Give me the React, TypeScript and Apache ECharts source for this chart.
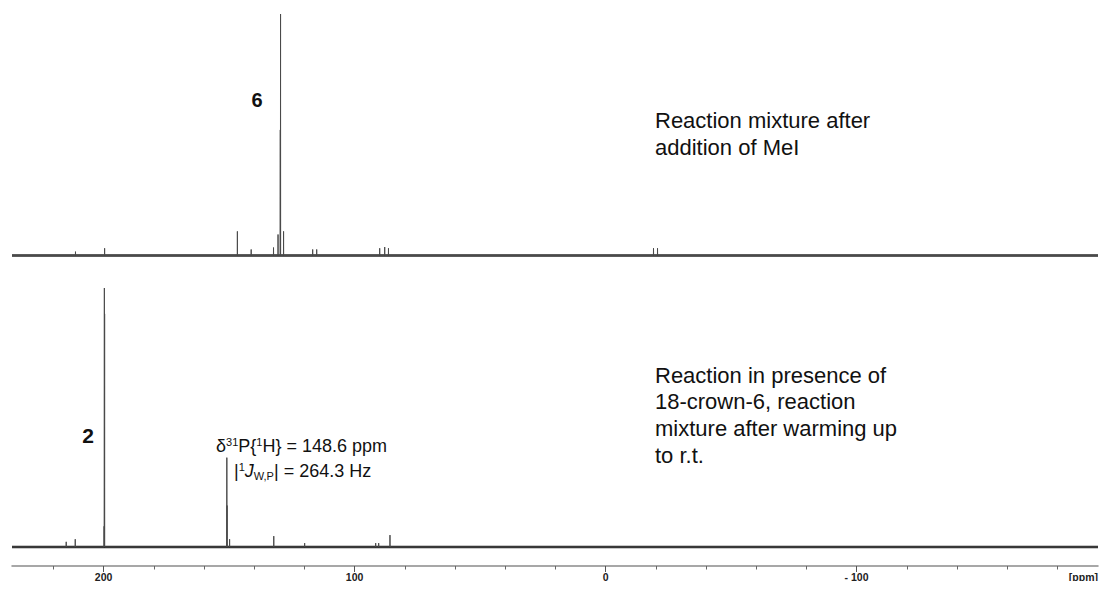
import React, { useEffect, useRef } from "react";
import * as echarts from "echarts";

// ---- data (ppm, relative intensity) ----
const topPeakPpm = [211.2, 199.6, 146.7, 141.2, 132.3, 130.5, 129.6, 129.5, 128.3, 116.7, 115.1, 90.0, 88.0, 86.5, -19.1, -20.7];
const topPeakHeight = [0.016, 0.03, 0.1, 0.025, 0.033, 0.087, 0.52, 1.0, 0.1, 0.025, 0.025, 0.03, 0.035, 0.03, 0.03, 0.03];

const bottomPeakPpm = [214.9, 211.3, 199.8, 199.7, 199.6, 150.9, 150.8, 149.8, 132.2, 119.9, 91.6, 90.4, 85.9];
const bottomPeakHeight = [0.02, 0.03, 0.08, 1.0, 0.9, 0.345, 0.16, 0.03, 0.042, 0.015, 0.015, 0.015, 0.046];

const majorTicks = [200, 100, 0, -100];
const minorTicks = [220, 180, 160, 140, 120, 80, 60, 40, 20, -20, -40, -60, -80, -120, -140, -160, -180];

const X_MIN = -196.2;
const X_MAX = 236.5;

function buildSpectrum(ppm: number[], h: number[]) {
  const idx = ppm.map((_, i) => i).sort((a, b) => ppm[b] - ppm[a]);
  const pts: number[][] = [[X_MAX, 0]];
  const w = 0.04;
  idx.forEach((i) => {
    pts.push([ppm[i] + w, 0]);
    pts.push([ppm[i], h[i]]);
    pts.push([ppm[i] - w, 0]);
  });
  pts.push([X_MIN, 0]);
  return pts;
}

const FONT = "'Liberation Sans', Arial, sans-serif";

export default function App() {
  const ref = useRef<HTMLDivElement>(null);
  useEffect(() => {
    if (!ref.current) return;
    const chart = echarts.init(ref.current, null, { renderer: "svg" });
    const topBase = 255.5;
    const topPeak = 14;
    const topUnit = topBase - topPeak;
    const botBase = 547;
    const botPeak = 288;
    const botUnit = botBase - botPeak;
    const axisY = 566;
    const botMin = -(axisY - botBase) / botUnit;

    const baselineStyle = { color: "#262626", width: 2.6 };
    const peakStyle = { color: "#4a4a4a", width: 1 };
    const sup = { fontSize: 11, lineHeight: 12, verticalAlign: "top", fontFamily: FONT, fill: "#111" };
    const txt = { fontSize: 18, lineHeight: 20, fontFamily: FONT, fill: "#111" };

    chart.setOption({
      animation: false,
      backgroundColor: "#ffffff",
      grid: [
        { left: 12, right: 12, top: topPeak, height: topUnit * 1.1 },
        { left: 12, right: 12, top: botPeak, height: botUnit * (1 - botMin) },
      ],
      xAxis: [
        { gridIndex: 0, type: "value", inverse: true, min: X_MIN, max: X_MAX, show: false },
        {
          gridIndex: 1,
          type: "value",
          inverse: true,
          min: X_MIN,
          max: X_MAX,
          position: "bottom",
          splitLine: { show: false },
          axisLine: { show: true, onZero: false, lineStyle: { color: "#8a8a8a", width: 1.5 } },
          axisTick: { show: true, length: 6, customValues: majorTicks, lineStyle: { color: "#555", width: 1 } },
          axisLabel: {
            show: true,
            customValues: majorTicks,
            margin: 5,
            color: "#222",
            fontFamily: FONT,
            fontWeight: "bold",
            fontSize: 10.5,
            formatter: (v: number) => (v < 0 ? "- " + Math.abs(v) : String(v)),
          },
        },
        {
          gridIndex: 1,
          type: "value",
          inverse: true,
          min: X_MIN,
          max: X_MAX,
          position: "bottom",
          offset: 0,
          splitLine: { show: false },
          axisLine: { show: false, onZero: false },
          axisTick: { show: true, length: 3.5, customValues: minorTicks, lineStyle: { color: "#666", width: 1 } },
          axisLabel: { show: false },
        },
      ],
      yAxis: [
        { gridIndex: 0, type: "value", min: -0.1, max: 1, show: false },
        { gridIndex: 1, type: "value", min: botMin, max: 1, show: false },
      ],
      series: [
        {
          type: "line",
          xAxisIndex: 0,
          yAxisIndex: 0,
          data: [[X_MAX, 0], [X_MIN, 0]],
          showSymbol: false,
          lineStyle: baselineStyle,
          silent: true,
        },
        {
          type: "line",
          xAxisIndex: 0,
          yAxisIndex: 0,
          data: buildSpectrum(topPeakPpm, topPeakHeight),
          showSymbol: false,
          lineStyle: peakStyle,
          silent: true,
        },
        {
          type: "line",
          xAxisIndex: 1,
          yAxisIndex: 1,
          data: [[X_MAX, 0], [X_MIN, 0]],
          showSymbol: false,
          lineStyle: baselineStyle,
          silent: true,
        },
        {
          type: "line",
          xAxisIndex: 1,
          yAxisIndex: 1,
          data: buildSpectrum(bottomPeakPpm, bottomPeakHeight),
          showSymbol: false,
          lineStyle: peakStyle,
          silent: true,
        },
      ],
      graphic: [
        {
          type: "text",
          x: 1098,
          y: 577,
          style: { text: "[ppm]", fill: "#222", fontFamily: FONT, fontWeight: "bold", fontSize: 10.5, align: "right", verticalAlign: "middle" },
        },
        {
          type: "text",
          x: 257,
          y: 100,
          style: { text: "6", fill: "#111", fontFamily: FONT, fontWeight: "bold", fontSize: 20, align: "center", verticalAlign: "middle" },
        },
        {
          type: "text",
          x: 88,
          y: 435,
          style: { text: "2", fill: "#111", fontFamily: FONT, fontWeight: "bold", fontSize: 21, align: "center", verticalAlign: "middle" },
        },
        {
          type: "text",
          x: 655,
          y: 106.5,
          style: {
            text: "Reaction mixture after\naddition of MeI",
            fill: "#111",
            fontFamily: FONT,
            fontSize: 22,
            lineHeight: 27,
            align: "left",
            verticalAlign: "top",
          },
        },
        {
          type: "text",
          x: 655,
          y: 361.7,
          style: {
            text: "Reaction in presence of\n18-crown-6, reaction\nmixture after warming up\nto r.t.",
            fill: "#111",
            fontFamily: FONT,
            fontSize: 22,
            lineHeight: 26.7,
            align: "left",
            verticalAlign: "top",
          },
        },
        {
          type: "text",
          x: 216,
          y: 446,
          style: {
            text: "{n|δ}{s|31}{n|P{}{s|1}{n|H}} = 148.6 ppm",
            fill: "#111",
            fontFamily: FONT,
            fontSize: 18,
            lineHeight: 20,
            align: "left",
            verticalAlign: "middle",
            rich: { s: sup, n: txt },
          },
        },
        {
          type: "text",
          x: 234,
          y: 471,
          style: {
            text: "{n||}{s|1}{i|J}{b|W,P}| = 264.3 Hz",
            fill: "#111",
            fontFamily: FONT,
            fontSize: 18,
            lineHeight: 20,
            align: "left",
            verticalAlign: "middle",
            rich: {
              n: txt,
              s: sup,
              i: { ...txt, fontStyle: "italic" },
              b: { fontSize: 11, lineHeight: 10, verticalAlign: "bottom", fontFamily: FONT, fill: "#111" },
            },
          },
        },
      ],
    });
    return () => chart.dispose();
  }, []);
  return <div ref={ref} style={{ width: 1110, height: 589, margin: -8 }} />;
}
